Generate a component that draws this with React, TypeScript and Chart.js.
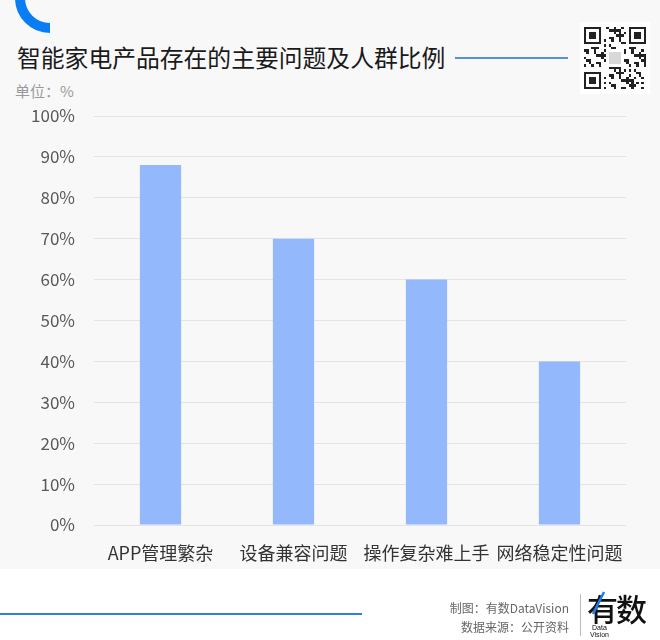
import React, { useEffect, useRef } from "react";
import { Chart, registerables } from "chart.js";

Chart.register(...registerables);

const categories: string[] = ["APP管理繁杂", "设备兼容问题", "操作复杂难上手", "网络稳定性问题"];
const shares: number[] = [88, 70, 60, 40];
const yTicks: number[] = [0, 10, 20, 30, 40, 50, 60, 70, 80, 90, 100];

const TITLE = "智能家电产品存在的主要问题及人群比例";
const UNIT = "单位：%";
const CREDIT = "制图：有数DataVision";
const SOURCE = "数据来源：公开资料";

const FONT = '"Noto Sans CJK SC", "Noto Sans", sans-serif';

function QR() {
  const n = 25;
  const cells: React.ReactNode[] = [];
  const inFinder = (r: number, c: number) =>
    (r < 8 && c < 8) || (r < 8 && c >= n - 8) || (r >= n - 8 && c < 8);
  for (let r = 0; r < n; r++) {
    for (let c = 0; c < n; c++) {
      if (inFinder(r, c)) continue;
      if (r >= 9 && r <= 15 && c >= 9 && c <= 15) continue;
      const v = (r * 7 + c * 11 + ((r * c) % 5)) % 3;
      if (v === 0) cells.push(<rect key={r + "-" + c} x={c} y={r} width={1} height={1} fill="#222" />);
    }
  }
  const finder = (x: number, y: number) => (
    <g key={"f" + x + y}>
      <rect x={x} y={y} width={7} height={7} fill="#222" />
      <rect x={x + 1} y={y + 1} width={5} height={5} fill="#fff" />
      <rect x={x + 2} y={y + 2} width={3} height={3} fill="#222" />
    </g>
  );
  return (
    <svg width={62} height={62} viewBox="0 0 25 25" shapeRendering="crispEdges">
      <rect x={0} y={0} width={25} height={25} fill="#fff" />
      {cells}
      {finder(0, 0)}
      {finder(18, 0)}
      {finder(0, 18)}
      <rect x={10} y={10} width={5} height={5} fill="#d8d8d8" />
    </svg>
  );
}

export default function App() {
  const canvasRef = useRef<HTMLCanvasElement | null>(null);

  useEffect(() => {
    if (!canvasRef.current) return;
    const chart = new Chart(canvasRef.current, {
      type: "bar",
      data: {
        labels: categories,
        datasets: [
          {
            data: shares,
            backgroundColor: "#93b8fb",
            barPercentage: 0.62,
            categoryPercentage: 0.5,
          },
        ],
      },
      options: {
        animation: false,
        responsive: false,
        maintainAspectRatio: false,
        layout: { padding: { left: 0, right: 34, top: 116, bottom: 65 } },
        plugins: { legend: { display: false }, tooltip: { enabled: false } },
        scales: {
          x: {
            border: { display: false },
            grid: { display: false, drawTicks: false },
            ticks: { color: "#333", font: { family: FONT, size: 18 }, padding: 17 },
            afterFit: (s: any) => {
              s.height = 50;
            },
          },
          y: {
            min: 0,
            max: 100,
            border: { display: false },
            grid: { color: "#e4e4e4", drawTicks: false, lineWidth: 1 },
            afterBuildTicks: (s: any) => {
              s.ticks = yTicks.map((v) => ({ value: v }));
            },
            ticks: {
              color: "#595959",
              font: { family: FONT, size: 17 },
              padding: 19,
              callback: (v: any) => v + "%",
            },
            afterFit: (s: any) => {
              s.width = 94;
            },
          },
        },
      },
    });
    return () => chart.destroy();
  }, []);

  return (
    <div
      style={{
        position: "fixed",
        left: 0,
        top: 0,
        width: 660,
        height: 640,
        background: "#fff",
        fontFamily: FONT,
        overflow: "hidden",
      }}
    >
      <div style={{ position: "absolute", left: 0, top: 0, width: 660, height: 569, background: "#f8f8f8" }} />
      <svg style={{ position: "absolute", left: 0, top: 0 }} width={80} height={45}>
        <path d="M 50 28 A 30 30 0 0 1 20 -2" fill="none" stroke="#0b7df4" strokeWidth={10} />
      </svg>
      <div
        style={{
          position: "absolute",
          left: 17,
          top: 40,
          fontSize: 23.8,
          lineHeight: "34px",
          color: "#1a1a1a",
          whiteSpace: "nowrap",
        }}
      >
        {TITLE}
      </div>
      <div style={{ position: "absolute", left: 455, top: 57, width: 113, height: 1.5, background: "#5b8fd6" }} />
      <div style={{ position: "absolute", left: 580, top: 22, width: 70, height: 72, background: "#fff" }} />
      <div style={{ position: "absolute", left: 584, top: 27 }}>
        <QR />
      </div>
      <div
        style={{
          position: "absolute",
          left: 15,
          top: 80,
          fontSize: 15,
          lineHeight: "22px",
          color: "#9a9a9a",
          whiteSpace: "nowrap",
        }}
      >
        {UNIT}
      </div>
      <canvas ref={canvasRef} width={660} height={640} style={{ position: "absolute", left: 0, top: 0 }} />
      <div style={{ position: "absolute", left: 0, top: 613, width: 362, height: 2, background: "#2d7fe0" }} />
      <div
        style={{
          position: "absolute",
          right: 91,
          top: 598,
          fontSize: 12,
          lineHeight: "19px",
          color: "#666",
          textAlign: "right",
          whiteSpace: "nowrap",
        }}
      >
        <div>{CREDIT}</div>
        <div>{SOURCE}</div>
      </div>
      <div style={{ position: "absolute", left: 580, top: 594, width: 1, height: 42, background: "#bbb" }} />
      <div
        style={{
          position: "absolute",
          left: 587,
          top: 588,
          fontSize: 31,
          lineHeight: "40px",
          color: "#111",
          fontWeight: 500,
          whiteSpace: "nowrap",
          letterSpacing: -2,
        }}
      >
        有数
      </div>
      <svg style={{ position: "absolute", left: 585, top: 590 }} width={30} height={30}>
        <line x1={19} y1={2} x2={8} y2={24} stroke="#1a7ff0" strokeWidth={2.5} />
      </svg>
      <div
        style={{
          position: "absolute",
          left: 590,
          top: 624,
          fontSize: 7,
          lineHeight: "7px",
          color: "#111",
          background: "#fff",
          fontFamily: '"Liberation Sans", sans-serif',
        }}
      >
        <div style={{ paddingLeft: 2 }}>Data</div>
        <div>Vision</div>
      </div>
    </div>
  );
}
